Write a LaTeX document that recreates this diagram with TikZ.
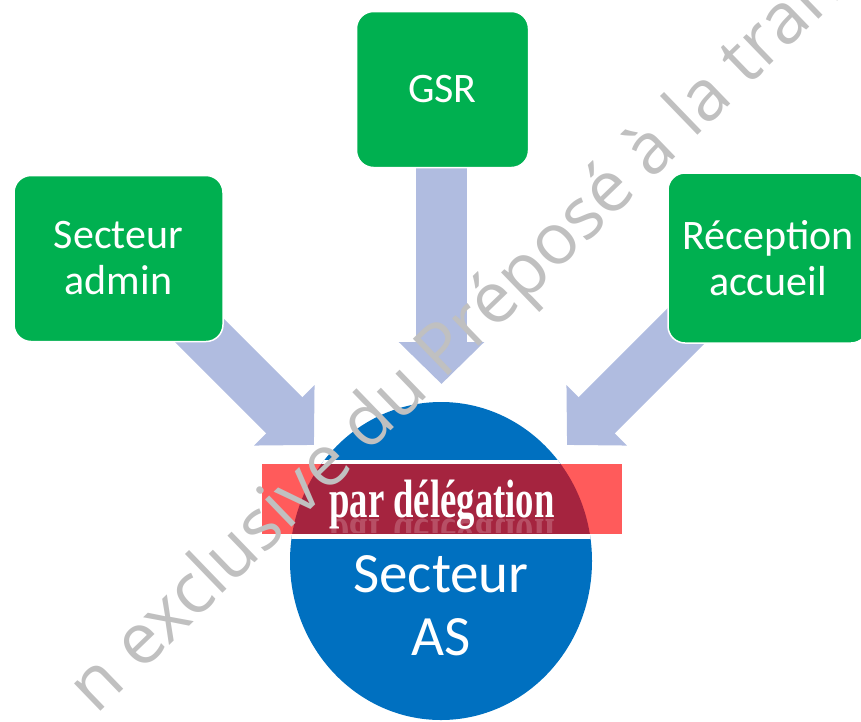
\documentclass[tikz,border=0pt]{standalone}
\usepackage{fontspec}
\setmainfont{Carlito}
\newfontfamily\bannerfont{Liberation Serif}
\newfontfamily\wmfont{Open Sans}
\usetikzlibrary{shapes.geometric,arrows.meta}
\definecolor{boxgreen}{HTML}{00B050}
\definecolor{asblue}{HTML}{0070C0}
\definecolor{arrowc}{HTML}{B0BCE0}
\definecolor{lightred}{HTML}{FF5B5B}
\definecolor{darkred}{HTML}{A5243F}
\definecolor{wmgray}{HTML}{C0C0C0}
\pgfdeclarelayer{bg}
\pgfsetlayers{bg,main}
\tikzset{
  greenbox/.style={rectangle, rounded corners=17pt, fill=boxgreen, draw=white, line width=1.5pt,
    text=white, align=center, inner sep=0pt, font=\fontsize{42}{46}\selectfont},
  blockarrow/.style={draw=arrowc, line width=51pt, -{Triangle[length=42pt,width=83pt,fill=arrowc]}},
  wmark/.style={text=wmgray, font=\wmfont\fontsize{71}{75}\selectfont, rotate=44, inner sep=0pt}
}
\begin{document}
\begin{tikzpicture}[x=1pt,y=-1pt]
\useasboundingbox (0,0) rectangle (861,721);
% boxes
\node[greenbox, minimum width=209pt, minimum height=166pt] (admin) at (118.5,258.5) {Secteur\\admin};
\node[greenbox, minimum width=172pt, minimum height=156pt] (gsr) at (442.5,89.5) {GSR};
\node[greenbox, minimum width=200pt, minimum height=170pt] (recep) at (768,258) {R\'eception\\accueil};
% arrows
\coordinate (tailA) at (170,301);
\coordinate (tipA) at (314,445);
\coordinate (tailG) at (441.5,120);
\coordinate (tipG) at (441.5,384);
\coordinate (tailR) at (700,312);
\coordinate (tipR) at (567,445);
\begin{pgfonlayer}{bg}
\draw[blockarrow] (tailA) -- (tipA);
\draw[blockarrow] (tailG) -- (tipG);
\draw[blockarrow] (tailR) -- (tipR);
\end{pgfonlayer}
% circle
\node[ellipse, fill=asblue, minimum width=302pt, minimum height=318pt, inner sep=0pt] (as) at (441,561) {};
\begin{scope}
\clip (441,561) ellipse [x radius=151, y radius=159];
\fill[white] (262,460) rectangle (622,539);
\end{scope}
\node[rectangle, fill=lightred, minimum width=360pt, minimum height=70pt, inner sep=0pt] (banner) at (442,499) {};
\begin{scope}
\clip (441,561) ellipse [x radius=151, y radius=159];
\fill[darkred] (262,464) rectangle (622,534);
\end{scope}
\node[anchor=base, text=white, inner sep=0pt, font=\bannerfont\bfseries\fontsize{54}{58}\selectfont] (deleg) at (442,517) {\scalebox{0.68}[1]{par d\'el\'egation}};
\begin{scope}
\clip (262,517) rectangle (622,532);
\node[anchor=base, text=white, opacity=0.2, inner sep=0pt, font=\bannerfont\bfseries\fontsize{54}{58}\selectfont] (reflect) at (442,519) {\scalebox{0.68}[-1]{par d\'el\'egation}};
\end{scope}
\node[text=white, align=center, inner sep=0pt, font=\fontsize{57}{63}\selectfont] (aslabel) at (441,606) {Secteur\\AS};
% watermark
\begin{scope}
\clip (0,0) rectangle (861,721);
\node[wmark, anchor=center] (wm) at (458,341) {n exclusive du Pr\'epos\'e \`a la tran};
\end{scope}
\end{tikzpicture}
\end{document}
